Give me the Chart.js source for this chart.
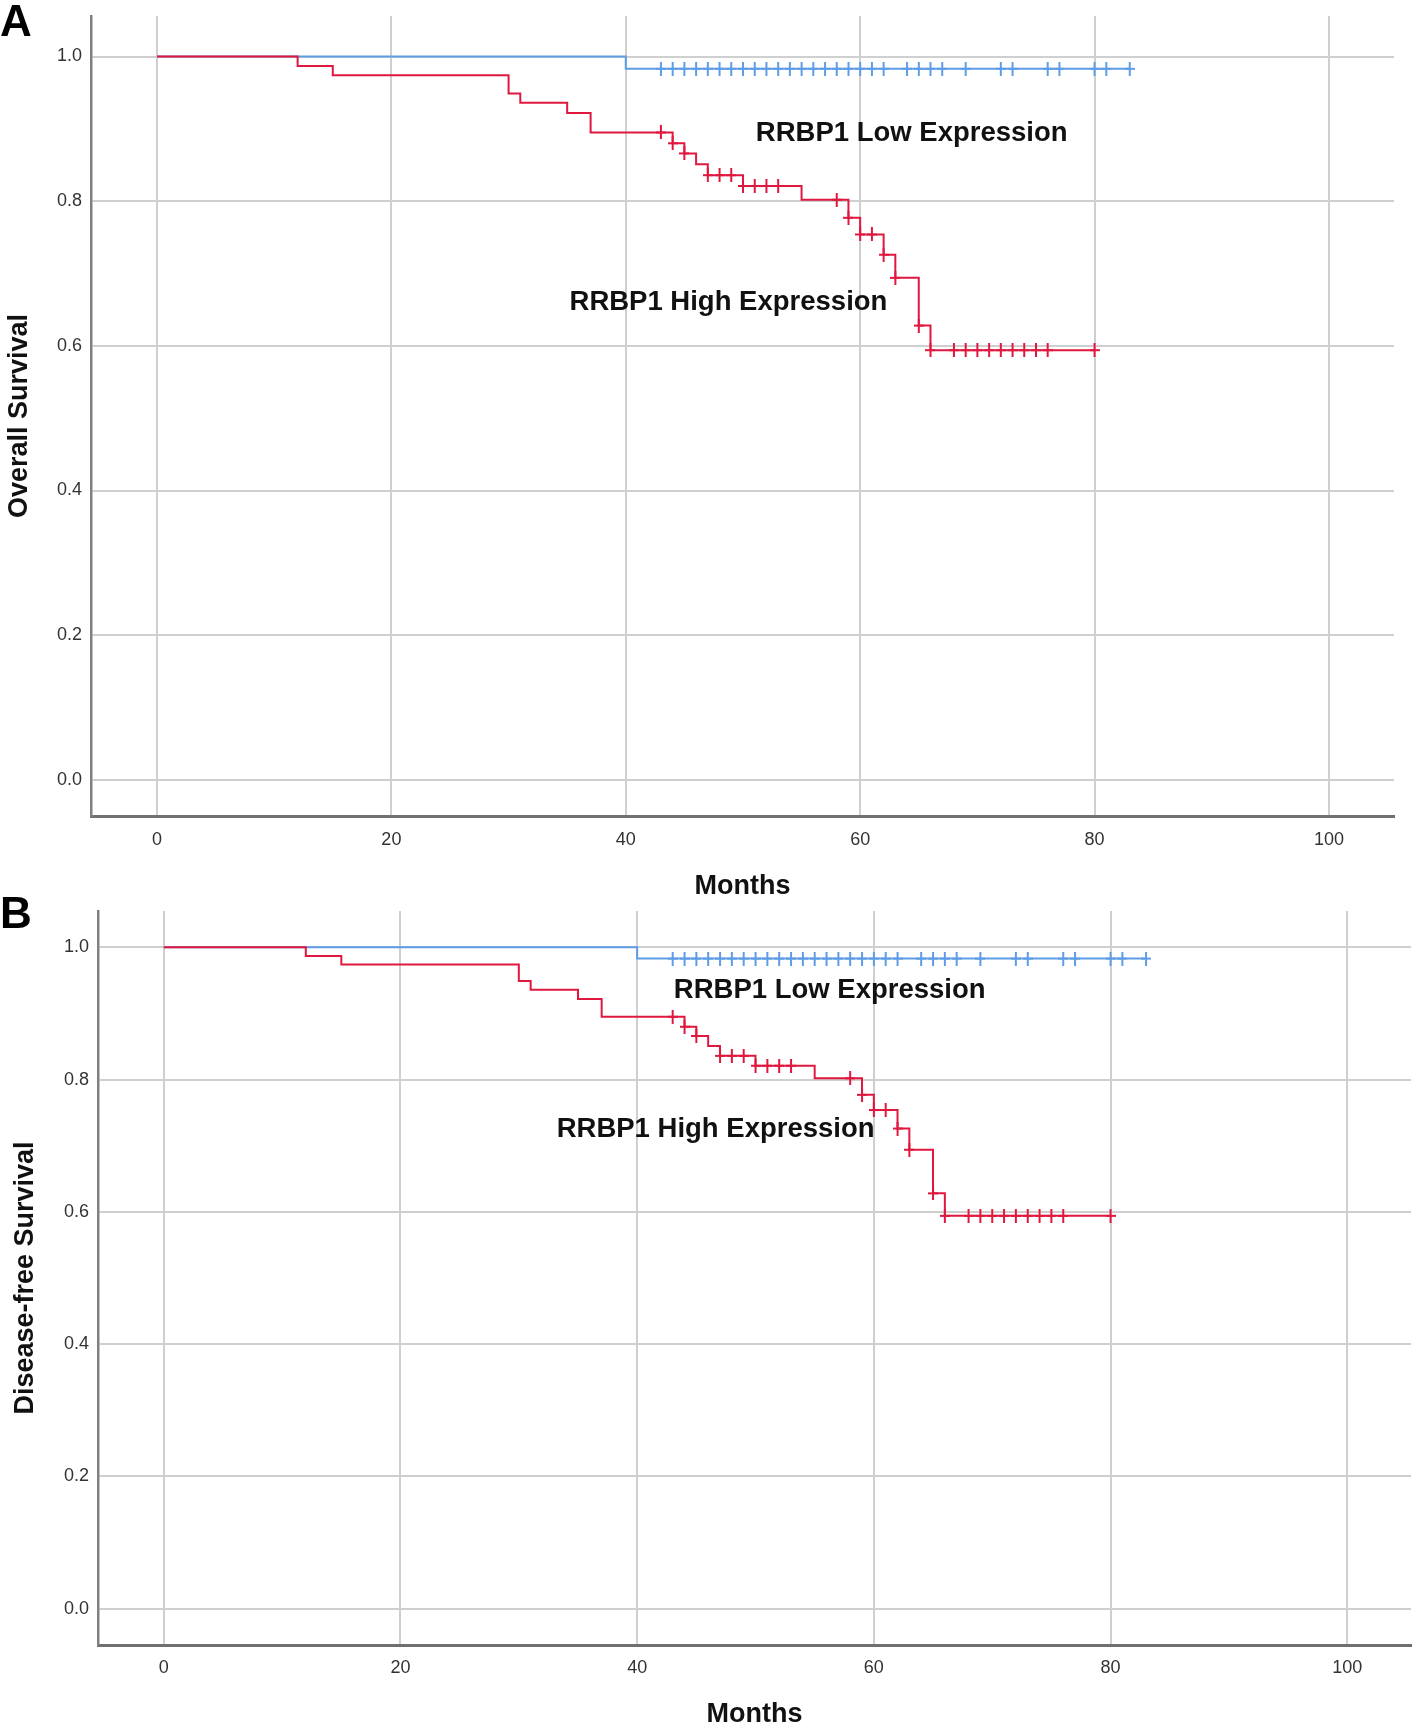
<!DOCTYPE html>
<html><head><meta charset="utf-8">
<script src="https://cdn.jsdelivr.net/npm/chart.js@4/dist/chart.umd.min.js"></script>
<style>
html,body{margin:0;padding:0;background:#fff;width:1418px;height:1726px;overflow:hidden;position:relative;}
canvas{position:absolute;left:0;}
.letter{position:absolute;left:0;font:bold 44px "Liberation Sans",Arial,sans-serif;line-height:44px;color:#000;z-index:5;}
</style></head><body>
<canvas id="cA" width="1418" height="900" style="top:0;width:1418px;height:900px"></canvas>
<canvas id="cB" width="1418" height="826" style="top:900px;width:1418px;height:826px"></canvas>
<div class="letter" style="top:-1px">A</div>
<div class="letter" style="top:891px">B</div>
<script>
// ---- data ----
const monthTicks = [0, 20, 40, 60, 80, 100];
const survivalTicks = [0.0, 0.2, 0.4, 0.6, 0.8, 1.0];

// RRBP1 Low Expression (Kaplan-Meier step points: time, survival after event)
const lowTimes = [0, 40, 83];
const lowSurv  = [1.0, 0.983, 0.983];
const lowCensored = [43,44,45,46,47,48,49,50,51,52,53,54,55,56,57,58,59,60,61,62,64,65,66,67,69,72,73,76,77,80,81,83];

// RRBP1 High Expression
const highTimes = [0, 12, 15, 30, 31, 35, 37, 44, 45, 46, 47, 50, 55, 59, 60, 62, 63, 65, 66, 80];
const highSurv  = [1.0, 0.987, 0.974, 0.949, 0.936, 0.922, 0.895, 0.880, 0.866, 0.851, 0.836, 0.821, 0.802, 0.777, 0.754, 0.726, 0.694, 0.628, 0.594, 0.594];
const highCensored = [43,44,45,47,48,49,50,51,52,53,58,59,60,61,62,63,65,66,68,69,70,71,72,73,74,75,76,80];

const lowLabel = 'RRBP1 Low Expression';
const highLabel = 'RRBP1 High Expression';
const xTitle = 'Months';
const yTitleA = 'Overall Survival';
const yTitleB = 'Disease-free Survival';

// ---- styling ----
const FONT = '"Liberation Sans", Arial, sans-serif';
const BLUE = '#5e9de6';
const RED = '#e0183f';
Chart.defaults.font.family = FONT;

function survAt(times, surv, t) {
  let v = surv[0];
  for (let i = 0; i < times.length; i++) { if (times[i] <= t) v = surv[i]; }
  return v;
}
function crossImg(color) {
  const c = document.createElement('canvas');
  c.width = 10; c.height = 14;
  const g = c.getContext('2d');
  g.strokeStyle = color; g.lineWidth = 2;
  g.beginPath();
  g.moveTo(0, 7); g.lineTo(10, 7);
  g.moveTo(5, 0); g.lineTo(5, 14);
  g.stroke();
  return c;
}
const redCross = crossImg(RED);
const blueCross = crossImg(BLUE);

const labelPlugin = {
  id: 'kmLabels',
  afterDatasetsDraw(chart, args, opts) {
    const {ctx, scales: {x, y}} = chart;
    ctx.save();
    ctx.font = 'bold 27.5px ' + FONT;
    ctx.fillStyle = '#111';
    ctx.textAlign = 'left';
    ctx.textBaseline = 'alphabetic';
    (opts.items || []).forEach(it => {
      ctx.fillText(it.text, x.getPixelForValue(it.x), y.getPixelForValue(it.y));
    });
    ctx.restore();
  }
};

function makeChart(id, cfg) {
  const datasets = [
    { data: lowTimes.map((t, i) => ({x: t, y: lowSurv[i]})), showLine: true, stepped: 'before', borderColor: BLUE, borderWidth: 2, pointRadius: 0, fill: false, order: 4 },
    { data: lowCensored.map(t => ({x: t, y: survAt(lowTimes, lowSurv, t)})), showLine: false, pointStyle: blueCross, pointRadius: 6, order: 3 },
    { data: highTimes.map((t, i) => ({x: t, y: highSurv[i]})), showLine: true, stepped: 'before', borderColor: RED, borderWidth: 2, pointRadius: 0, fill: false, order: 2 },
    { data: highCensored.map(t => ({x: t, y: survAt(highTimes, highSurv, t)})), showLine: false, pointStyle: redCross, pointRadius: 6, order: 1 }
  ];
  return new Chart(document.getElementById(id), {
    type: 'scatter',
    data: { datasets },
    plugins: [labelPlugin],
    options: {
      responsive: false,
      animation: false,
      devicePixelRatio: 1,
      layout: { padding: cfg.padding },
      plugins: { legend: {display: false}, tooltip: {enabled: false}, kmLabels: { items: cfg.labels } },
      scales: {
        x: {
          type: 'linear', min: cfg.xMin, max: cfg.xMax,
          afterBuildTicks: s => { s.ticks = monthTicks.map(v => ({value: v})); },
          afterFit: s => { s.height = cfg.xAxisHeight; s.paddingLeft = 0; s.paddingRight = 0; },
          grid: { color: '#cfcfcf', lineWidth: 2, drawTicks: false },
          border: { display: true, color: '#707070', width: 3 },
          ticks: { padding: cfg.xTickPad, color: '#333', font: {size: 18}, callback: v => String(v) },
          title: { display: true, text: xTitle, color: '#111', font: {size: 27, weight: 'bold', lineHeight: cfg.xTitleLH}, padding: {top: 0, bottom: 0} }
        },
        y: {
          type: 'linear', min: cfg.yMin, max: cfg.yMax,
          afterBuildTicks: s => { s.ticks = survivalTicks.map(v => ({value: v})); },
          afterFit: s => { s.width = cfg.yAxisWidth; s.paddingTop = 0; s.paddingBottom = 0; },
          grid: { color: '#cfcfcf', lineWidth: 2, drawTicks: false },
          border: { display: true, color: '#808080', width: 2.5 },
          ticks: { padding: 9, color: '#333', font: {size: 18}, callback: v => v.toFixed(1) },
          title: { display: true, text: cfg.yTitle, color: '#111', font: {size: 27, weight: 'bold', lineHeight: 1}, padding: {top: cfg.yTitlePad, bottom: 0} }
        }
      }
    }
  });
}

makeChart('cA', {
  padding: {top: 16, right: 24, left: 0, bottom: 0},
  xMin: -5.63, xMax: 105.55, yMin: -0.05, yMax: 1.056,
  xAxisHeight: 84, yAxisWidth: 91, xTitleLH: 1, xTickPad: 13,
  yTitle: yTitleA, yTitlePad: 6,
  labels: [ {text: lowLabel, x: 51.1, y: 0.883}, {text: highLabel, x: 35.2, y: 0.650} ]
});
makeChart('cB', {
  padding: {top: 11, right: 3, left: 0, bottom: 0},
  xMin: -5.56, xMax: 105.39, yMin: -0.055, yMax: 1.055,
  xAxisHeight: 81, yAxisWidth: 98, xTitleLH: 0.85, xTickPad: 12,
  yTitle: yTitleB, yTitlePad: 12,
  labels: [ {text: lowLabel, x: 43.1, y: 0.924}, {text: highLabel, x: 33.2, y: 0.713} ]
});
</script>
</body></html>
